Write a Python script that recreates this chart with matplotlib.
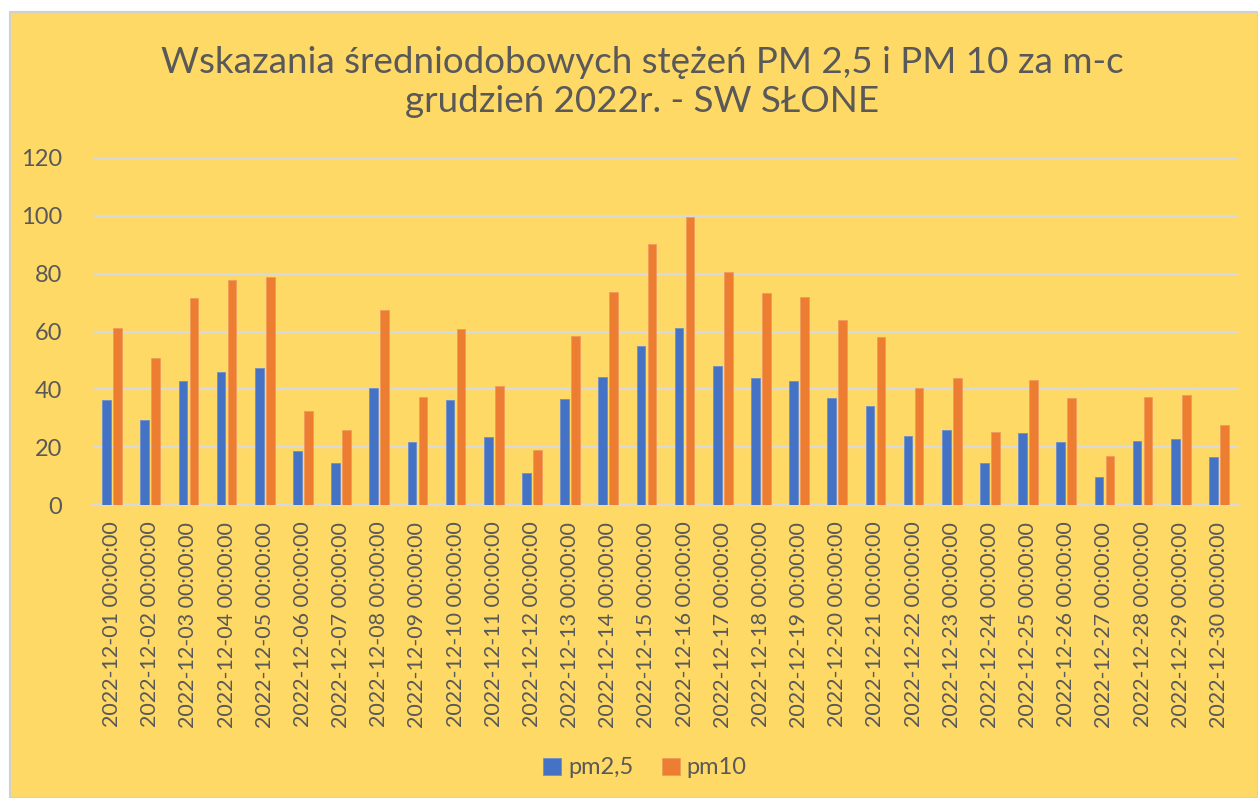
import matplotlib
matplotlib.use("Agg")
import matplotlib.pyplot as plt
from matplotlib.patches import Rectangle
import numpy as np

dates = [f"2022-12-{d:02d} 00:00:00" for d in range(1, 31)]
pm25 = [36.2, 29.5, 42.9, 46.1, 47.4, 18.8, 14.6, 40.6, 21.9, 36.2,
        23.6, 11.2, 36.7, 44.2, 54.9, 61.3, 48.2, 43.8, 42.9, 37.1,
        34.3, 23.7, 25.9, 14.6, 25.0, 21.9, 9.8, 22.3, 22.8, 16.5]
pm10 = [61.3, 50.9, 71.6, 77.8, 78.8, 32.6, 25.9, 67.5, 37.4, 60.8,
        41.1, 19.1, 58.5, 73.8, 90.3, 99.7, 80.5, 73.3, 72.1, 63.9,
        58.0, 40.6, 43.8, 25.4, 43.4, 37.1, 16.9, 37.5, 38.0, 27.7]
yticks = [0, 20, 40, 60, 80, 100, 120]
title = "Wskazania średniodobowych stężeń PM 2,5 i PM 10 za m-c\ngrudzień 2022r. - SW SŁONE"
series_names = ["pm2,5", "pm10"]

W, H = 1258, 798
BG = "#FFD966"
TXT = "#595959"
GRID = "#D9D9D9"
plt.rcParams['font.family'] = ['Lato', 'DejaVu Sans']

fig = plt.figure(figsize=(W / 100, H / 100), dpi=100)
fig.patch.set_facecolor("white")
fig.patches.append(Rectangle((10 / W, 0), 1 - 10 / W, 1 - 12 / H, transform=fig.transFigure,
                             facecolor=BG, edgecolor="#D0D0D0", linewidth=1.5, zorder=-10))

left, right, top, bottom = 93, 1238, 158, 505
ax = fig.add_axes([left / W, 1 - bottom / H, (right - left) / W, (bottom - top) / H])
ax.set_facecolor("none")

x = np.arange(len(dates))
bw = 0.225
off = 0.145
ax.bar(x - off, pm25, width=bw, color="#4472C4", edgecolor="#6E8FCF", linewidth=0.6,
       label=series_names[0], zorder=3)
ax.bar(x + off, pm10, width=bw, color="#ED7D31", edgecolor="#F29A5E", linewidth=0.6,
       label=series_names[1], zorder=3)

ax.set_xlim(-0.5, len(dates) - 0.5)
ax.set_ylim(0, 120)
ax.set_yticks(yticks)
ax.set_yticklabels([str(v) for v in yticks])
ax.yaxis.grid(True, color=GRID, linewidth=1.6, zorder=0)
ax.set_axisbelow(True)
for s in ["top", "right", "left"]:
    ax.spines[s].set_visible(False)
ax.spines["bottom"].set_color(GRID)
ax.spines["bottom"].set_linewidth(1.6)
ax.tick_params(axis="y", length=0, pad=22, labelsize=17, labelcolor=TXT)
ax.tick_params(axis="x", length=0, pad=12, labelsize=15.5, labelcolor=TXT)
ax.set_xticks(x)
ax.set_xticklabels(dates, rotation=90)

fig.text(642 / W, 1 - 82 / H, title, ha="center", va="center", fontsize=26.5,
         color=TXT, linespacing=1.2)

leg = fig.legend(loc="center", bbox_to_anchor=(645 / W, 1 - 768 / H), ncol=2, frameon=False,
                 fontsize=17, labelcolor=TXT, handlelength=0.75, handleheight=0.75,
                 handletextpad=0.3, columnspacing=1.2)

fig.savefig("out.png", dpi=100, facecolor=fig.get_facecolor())
